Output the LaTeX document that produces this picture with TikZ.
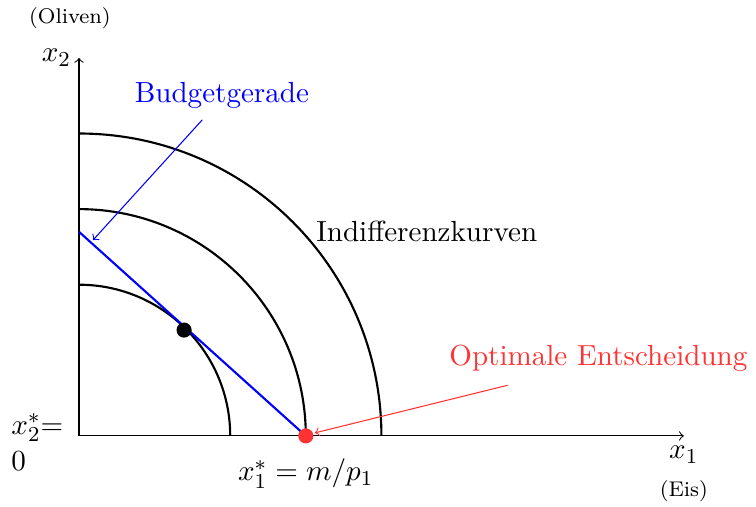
\documentclass[11pt,tikz,border=0pt]{standalone}
\usepackage{xcolor}
\usepackage{tikz}
\usepackage{amsmath}
\definecolor{optred}{HTML}{FF3333}
\definecolor{budblue}{HTML}{0000FF}

\begin{document}
\begin{tikzpicture}[x=1cm,y=1cm,
    indiff/.style={black,thick},
    hint/.style={->,thin}]
  \useasboundingbox (-1.045,-0.94) rectangle (8.955,5.766);
  % axes
  \coordinate (O) at (0,0);
  \coordinate (xend) at (8,0);
  \coordinate (yend) at (0,5);
  \draw[->] (O) -- (xend);
  \draw[->] (O) -- (yend);
  \node[below] (xlab) at (xend) {$x_1$};
  \node (eis) at (8,-0.73) {\scriptsize (Eis)};
  \node[left,xshift=0.03cm] (ylab) at (yend) {$x_2$};
  \node (oliven) at (-0.12,5.53) {\scriptsize (Oliven)};
  % indifference curves
  \draw[indiff] (0,2) arc[start angle=90,end angle=0,radius=2];
  \draw[indiff] (0,3) arc[start angle=90,end angle=0,radius=3];
  \draw[indiff] (0,4) arc[start angle=90,end angle=0,radius=4];
  \node (ikurven) at (4.6,2.71) {Indifferenzkurven};
  % budget line
  \coordinate (bud0) at (0,2.7);
  \coordinate (opt) at (3,0);
  \draw[budblue,thick] (bud0) -- (opt);
  \coordinate (tang) at (1.39,1.40);
  \fill[black] (tang) circle[radius=0.1cm];
  \fill[optred] (opt) circle[radius=0.1cm];
  \node[anchor=north] (xstar) at (3,-0.17) {$x_1^*=m/p_1$};
  \node[anchor=east,text width=0.75cm,align=left,inner sep=0pt] (ystar) at (-0.136,-0.08) {$x_2^*$= $0$};
  % labels with arrows
  \node[budblue] (budlab) at (1.89,4.51) {Budgetgerade};
  \coordinate (budfrom) at (1.63,4.18);
  \coordinate (budto) at (0.185,2.59);
  \draw[hint,budblue] (budfrom) -- (budto);
  \node[optred] (optlab) at (6.87,1.03) {Optimale Entscheidung};
  \coordinate (optfrom) at (5.67,0.67);
  \coordinate (optto) at (3.12,0.04);
  \draw[hint,optred] (optfrom) -- (optto);
\end{tikzpicture}
\end{document}
